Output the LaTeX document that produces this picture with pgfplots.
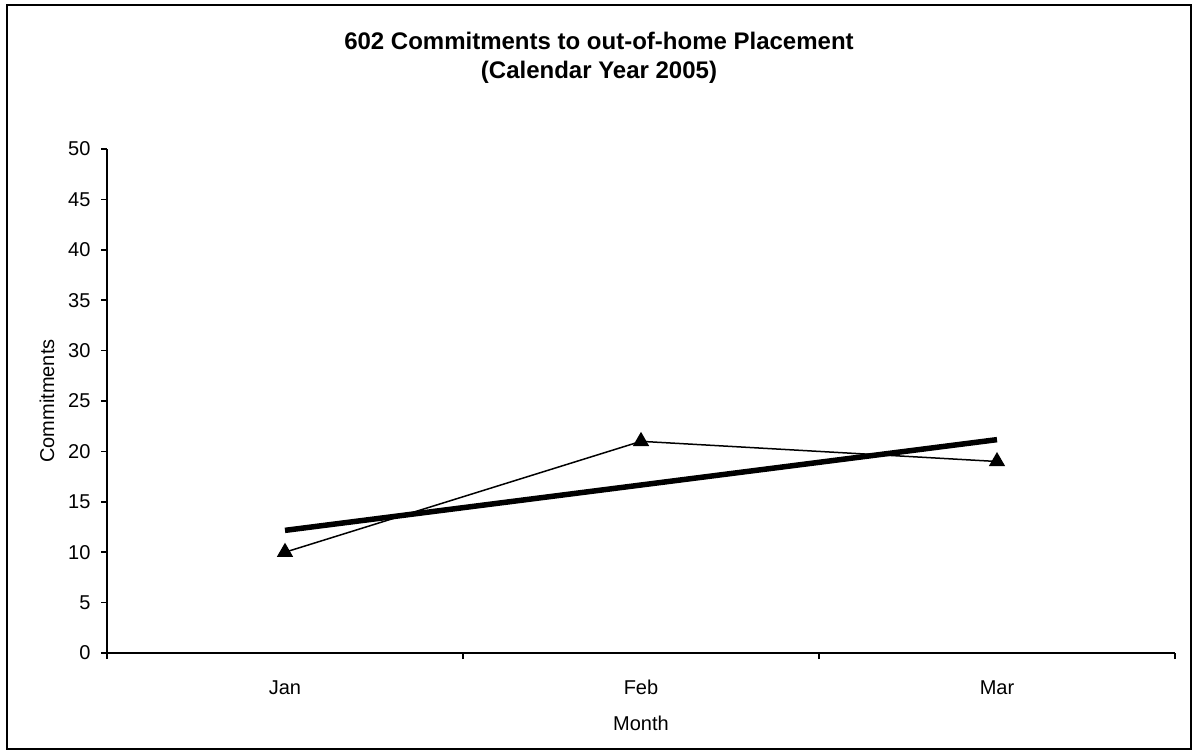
\documentclass[border=0pt]{standalone}
\usepackage{pgfplots}
\pgfplotsset{compat=1.18}
\usepackage{fontspec}
\setmainfont{Liberation Sans}
\begin{document}
\begin{tikzpicture}
\begin{axis}[
  scale only axis,
  width=1068pt, height=504pt,
  xmin=0.5, xmax=3.5,
  ymin=0, ymax=50,
  ytick={0,5,...,50},
  xtick={0.5,1.5,2.5,3.5},
  xticklabels={Jan,Feb,Mar},
  x tick label as interval,
  axis x line=bottom, axis y line=left,
  axis line style={-, line width=1.5pt, black},
  tick style={line width=1.5pt, black},
  tick align=outside,
  major tick length=6pt,
  /pgf/number format/assume math mode=true,
  tick label style={font=\fontsize{20}{24}\selectfont},
  label style={font=\fontsize{20}{24}\selectfont},
  xticklabel style={text height=15pt, text depth=4pt, yshift=-17pt},
  yticklabel style={xshift=-7pt},
  xlabel={Month},
  ylabel={Commitments},
  xlabel style={at={([yshift=-70pt]axis description cs:0.5,0)}, anchor=center},
  ylabel style={at={([xshift=-60pt]axis description cs:0,0.5)}, anchor=center},
  clip=false,
]
\addplot[black, line width=1.5pt, mark=triangle*, mark size=8pt, mark options={solid, fill=black}]
  coordinates {(1,10) (2,21) (3,19)};
\addplot[black, line width=5.5pt, no marks]
  coordinates {(1,12.167) (3,21.167)};
\draw[line width=2pt] ([xshift=-100pt,yshift=-96pt]rel axis cs:0,0) rectangle ([xshift=16pt,yshift=144pt]rel axis cs:1,1);
\path ([xshift=-107pt,yshift=-102pt]rel axis cs:0,0) rectangle ([xshift=18pt,yshift=149pt]rel axis cs:1,1);
\node[align=center, font=\fontsize{24}{29}\selectfont\bfseries] at ([xshift=-42pt,yshift=91pt]rel axis cs:0.5,1)
  {602 Commitments to out-of-home Placement\\(Calendar Year 2005)};
\end{axis}
\end{tikzpicture}
\end{document}
